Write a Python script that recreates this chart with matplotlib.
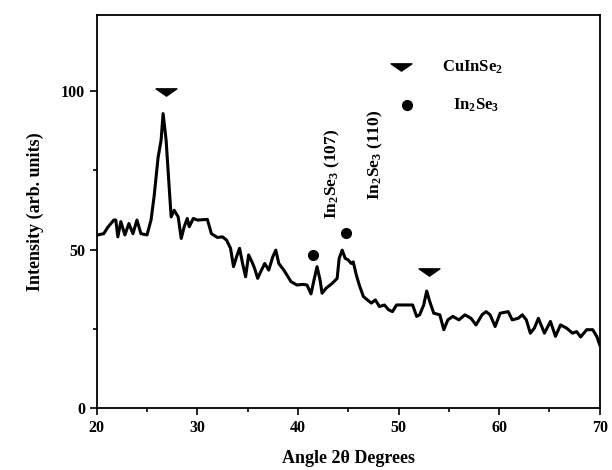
import numpy as np
import matplotlib.pyplot as plt
from matplotlib.ticker import MultipleLocator
from matplotlib.path import Path

# XRD pattern
angle = [20.1, 20.7, 21.1, 21.7, 21.9, 22.1, 22.4, 22.8, 23.2, 23.6, 24.0, 24.4, 25.0,
         25.4, 25.7, 26.1, 26.4, 26.6, 26.9, 27.2, 27.4, 27.7, 28.1, 28.4, 28.7, 29.0,
         29.2, 29.6, 30.0, 31.0, 31.4, 32.0, 32.5, 32.9, 33.3, 33.6, 33.9, 34.2, 34.5,
         34.8, 35.1, 35.5, 35.7, 36.0, 36.3, 36.7, 37.1, 37.5, 37.8, 38.1, 38.6, 38.9,
         39.3, 39.9, 40.5, 40.9, 41.3, 41.6, 41.9, 42.2, 42.4, 42.8, 43.4, 43.9, 44.1,
         44.4, 44.7, 45.0, 45.3, 45.5, 45.8, 46.1, 46.5, 46.9, 47.3, 47.7, 48.1, 48.6,
         49.0, 49.4, 49.8, 51.4, 51.8, 52.1, 52.5, 52.8, 53.1, 53.5, 54.1, 54.5, 54.9,
         55.4, 56.0, 56.6, 57.2, 57.7, 58.3, 58.7, 59.1, 59.6, 60.1, 60.9, 61.3, 61.9,
         62.3, 62.7, 63.1, 63.5, 63.9, 64.5, 65.1, 65.6, 66.1, 66.7, 67.3, 67.7, 68.1,
         68.7, 69.3, 69.7, 70.0]
intensity = [54.6, 55.0, 57.0, 59.3, 59.3, 54.0, 58.8, 54.6, 58.2, 55.0, 59.3, 55.0, 54.6,
             59.3, 66.6, 79.0, 84.5, 92.9, 84.5, 69.8, 60.3, 62.4, 60.3, 53.5, 57.2, 59.8,
             57.2, 59.8, 59.3, 59.5, 55.0, 53.8, 54.0, 53.0, 50.4, 44.6, 47.7, 50.4, 45.6,
             41.4, 48.3, 45.6, 44.0, 40.9, 43.0, 45.6, 43.5, 47.7, 49.8, 45.6, 43.5, 42.0,
             39.9, 38.8, 39.0, 38.8, 36.0, 40.4, 44.6, 40.4, 36.2, 37.8, 39.3, 40.9, 47.2,
             49.8, 47.2, 46.7, 45.6, 46.1, 42.0, 38.8, 35.2, 34.1, 33.1, 34.1, 32.0, 32.5,
             31.0, 30.4, 32.5, 32.5, 28.9, 29.4, 32.5, 36.9, 33.6, 29.9, 29.4, 24.7, 27.8,
             28.9, 27.8, 29.4, 28.3, 26.2, 29.4, 30.4, 29.4, 25.7, 29.9, 30.4, 27.8, 28.3,
             29.4, 27.8, 23.6, 25.2, 28.3, 23.6, 27.3, 22.6, 26.2, 25.2, 23.6, 24.1, 22.4,
             24.7, 24.7, 22.6, 19.9]

# peak markers
cis_x = [26.9, 53.0]
cis_y = [99.7, 43.0]
in2se3_x = [41.5, 44.8]
in2se3_y = [48.3, 55.3]

plt.rcParams['font.family'] = ['Liberation Serif', 'DejaVu Serif']
plt.rcParams['font.weight'] = 'bold'
plt.rcParams['mathtext.fontset'] = 'custom'
plt.rcParams['mathtext.rm'] = 'Liberation Serif:bold'
plt.rcParams['mathtext.bf'] = 'Liberation Serif:bold'
plt.rcParams['mathtext.it'] = 'Liberation Serif:bold'

# wide flat down-pointing arrowhead like the original
tri = Path([(-1, 0.35), (1, 0.35), (0, -0.35), (-1, 0.35)],
           [Path.MOVETO, Path.LINETO, Path.LINETO, Path.CLOSEPOLY])

fig = plt.figure(figsize=(6.12, 4.7), dpi=100)
ax = fig.add_axes([0.158, 0.132, 0.822, 0.836])

ax.plot(angle, intensity, color='black', lw=2.2)
ax.plot(cis_x, cis_y, marker=tri, ls='none', color='black', ms=15)
ax.plot(in2se3_x, in2se3_y, 'o', color='black', ms=7)

# legend drawn by hand like the original
ax.plot([50.2], [107.5], marker=tri, ls='none', color='black', ms=15)
ax.plot([50.8], [95.5], 'o', color='black', ms=7)
ax.text(54.3, 107.5, r'CuInSe$_\mathrm{2}$', fontsize=12, fontweight='bold', va='center')
ax.text(55.4, 95.5, r'In$_\mathrm{2}$Se$_\mathrm{3}$', fontsize=12, fontweight='bold', va='center')

ax.text(43.4, 74, r'In$_\mathrm{2}$Se$_\mathrm{3}$ (107)', rotation=90, fontsize=12.5,
        fontweight='bold', ha='center', va='center')
ax.text(47.7, 80, r'In$_\mathrm{2}$Se$_\mathrm{3}$ (110)', rotation=90, fontsize=12.5,
        fontweight='bold', ha='center', va='center')

ax.set_xlim(20, 70)
ax.set_ylim(0, 124)
ax.xaxis.set_major_locator(MultipleLocator(10))
ax.xaxis.set_minor_locator(MultipleLocator(5))
ax.yaxis.set_major_locator(MultipleLocator(50))
ax.yaxis.set_minor_locator(MultipleLocator(25))
ax.tick_params(which='both', direction='out', width=1.2)
ax.tick_params(which='major', length=5, labelsize=11.5)
ax.tick_params(which='minor', length=3)
for lab in ax.get_xticklabels() + ax.get_yticklabels():
    lab.set_fontweight('bold')
for s in ax.spines.values():
    s.set_linewidth(1.3)

ax.set_xlabel('Angle 2θ Degrees', fontsize=13, fontweight='bold', labelpad=10)
ax.set_ylabel('Intensity (arb. units)', fontsize=13, fontweight='bold', labelpad=12)

fig.savefig('out.png', dpi=100)
